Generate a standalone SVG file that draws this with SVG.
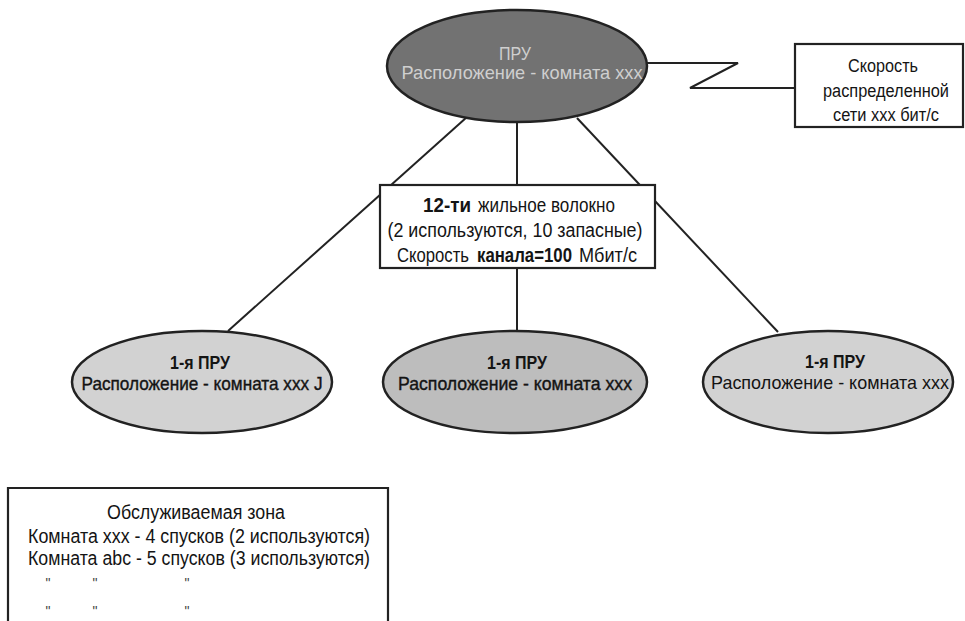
<svg xmlns="http://www.w3.org/2000/svg" width="965" height="621" viewBox="0 0 965 621">
<style>
.t{font-family:"Liberation Sans Narrow","Liberation Sans",Arial,sans-serif;fill:#141414;text-anchor:middle}
.s{text-anchor:start}
.b{font-weight:bold}
.edge{stroke:#222;stroke-width:2;fill:none}
.box{fill:#fff;stroke:#222;stroke-width:2.2}
.ell{stroke:#222;stroke-width:2.5}
.ditto{font-family:"Liberation Sans",Arial,sans-serif;fill:#444;font-size:14px;text-anchor:middle}
</style>
<rect width="965" height="621" fill="#fff"/>
<g id="connectors">
<line class="edge" x1="467" y1="117" x2="228" y2="331"/>
<line class="edge" x1="517" y1="122" x2="517" y2="331"/>
<line class="edge" x1="577" y1="118" x2="778" y2="332"/>
<polyline class="edge" points="646,63 738,63 690,88 796,88"/>
</g>
<g id="node-pru">
<ellipse class="ell" cx="517" cy="66" rx="130" ry="56" fill="#727272"/>
<text class="t" x="515" y="60" font-size="19" textLength="32" lengthAdjust="spacingAndGlyphs" style="fill:#cfcfcf">ПРУ</text>
<text class="t" x="522" y="79" font-size="19" textLength="241" lengthAdjust="spacingAndGlyphs" style="fill:#cfcfcf">Расположение - комната xxx</text>
</g>
<g id="node-speed">
<rect class="box" x="795" y="44" width="168" height="83"/>
<text class="t" x="883" y="72" font-size="18" textLength="70" lengthAdjust="spacingAndGlyphs">Скорость</text>
<text class="t" x="886" y="97" font-size="18" textLength="126" lengthAdjust="spacingAndGlyphs">распределенной</text>
<text class="t" x="886" y="121" font-size="18" textLength="106" lengthAdjust="spacingAndGlyphs">сети xxx бит/с</text>
</g>
<g id="node-fiber">
<rect class="box" x="380" y="185" width="275" height="83"/>
<text class="t s b" x="423" y="212" font-size="20" textLength="48" lengthAdjust="spacingAndGlyphs">12-ти</text>
<text class="t s" x="478" y="212" font-size="20" textLength="137" lengthAdjust="spacingAndGlyphs">жильное волокно</text>
<text class="t" x="515" y="237" font-size="20" textLength="255" lengthAdjust="spacingAndGlyphs">(2 используются,  10 запасные)</text>
<text class="t s" x="397" y="262" font-size="20" textLength="72" lengthAdjust="spacingAndGlyphs">Скорость</text>
<text class="t s b" transform="translate(477,262) scale(0.84,1)" x="0" y="0" font-size="20">канала=100</text>
<text class="t s" x="579" y="262" font-size="20" textLength="58" lengthAdjust="spacingAndGlyphs">Мбит/с</text>
</g>
<g id="node-pru1-left">
<ellipse class="ell" cx="202" cy="382" rx="130" ry="51" fill="#d2d2d2"/>
<text class="t b" x="200" y="369" font-size="19" textLength="60" lengthAdjust="spacingAndGlyphs">1-я ПРУ</text>
<text class="t" x="202" y="390" font-size="19" textLength="241" lengthAdjust="spacingAndGlyphs" stroke="#141414" stroke-width="0.4">Расположение - комната xxx J</text>
</g>
<g id="node-pru1-mid">
<ellipse class="ell" cx="515" cy="382" rx="132" ry="51" fill="#bdbdbd"/>
<text class="t b" x="517" y="369" font-size="19" textLength="60" lengthAdjust="spacingAndGlyphs">1-я ПРУ</text>
<text class="t" x="515" y="390" font-size="19" textLength="234" lengthAdjust="spacingAndGlyphs" stroke="#141414" stroke-width="0.4">Расположение - комната xxx</text>
</g>
<g id="node-pru1-right">
<ellipse class="ell" cx="828" cy="382" rx="125" ry="51" fill="#d2d2d2"/>
<text class="t b" x="835" y="368" font-size="19" textLength="60" lengthAdjust="spacingAndGlyphs">1-я ПРУ</text>
<text class="t" x="830" y="389" font-size="19" textLength="238" lengthAdjust="spacingAndGlyphs">Расположение - комната xxx</text>
</g>
<g id="node-zone">
<path class="box" d="M8,625 V488 H388 V625"/>
<text class="t" x="196" y="519" font-size="20" textLength="178" lengthAdjust="spacingAndGlyphs">Обслуживаемая зона</text>
<text class="t" x="199" y="543" font-size="20" textLength="342" lengthAdjust="spacingAndGlyphs">Комната xxx - 4 спусков (2 используются)</text>
<text class="t" x="199" y="565" font-size="20" textLength="342" lengthAdjust="spacingAndGlyphs">Комната abc - 5 спусков (3 используются)</text>
<text class="ditto" x="48" y="588">"</text>
<text class="ditto" x="95" y="588">"</text>
<text class="ditto" x="187" y="588">"</text>
<text class="ditto" x="48" y="616">"</text>
<text class="ditto" x="95" y="616">"</text>
<text class="ditto" x="187" y="616">"</text>
</g>
</svg>
